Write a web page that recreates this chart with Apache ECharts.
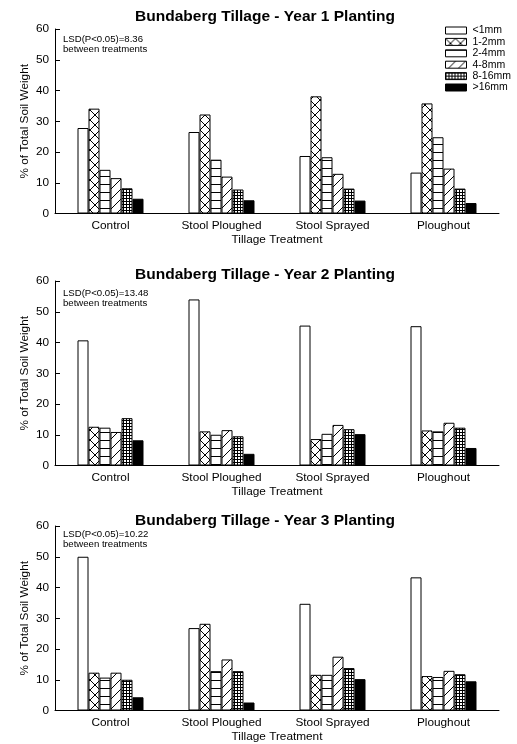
<!DOCTYPE html>
<html><head><meta charset="utf-8">
<script src="https://cdn.jsdelivr.net/npm/echarts@6/dist/echarts.min.js"></script>
<style>html,body{margin:0;padding:0;background:#fff}#c{width:517px;height:744px}</style>
</head><body><div id="c"></div>
<script>
const categories = ['Control', 'Stool Ploughed', 'Stool Sprayed', 'Ploughout'];
const sizeClasses = ['<1mm', '1-2mm', '2-4mm', '4-8mm', '8-16mm', '>16mm'];
const yTicks = [0, 10, 20, 30, 40, 50, 60];
const titles = ['Bundaberg Tillage - Year 1 Planting', 'Bundaberg Tillage - Year 2 Planting', 'Bundaberg Tillage - Year 3 Planting'];
const lsdValues = ['8.36', '13.48', '10.22'];

// Year 1 (values by size class across treatments)
const y1_lt1  = [27.8, 26.5, 18.7, 13.3];
const y1_1_2  = [34.1, 32.2, 38.1, 35.8];
const y1_2_4  = [14.2, 17.5, 18.3, 24.8];
const y1_4_8  = [11.5, 12.0, 12.9, 14.6];
const y1_8_16 = [8.2, 7.8, 8.1, 8.1];
const y1_gt16 = [4.8, 4.3, 4.2, 3.4];
// Year 2
const y2_lt1  = [40.7, 54.0, 45.5, 45.3];
const y2_1_2  = [12.6, 11.1, 8.6, 11.4];
const y2_2_4  = [12.3, 10.0, 10.3, 11.1];
const y2_4_8  = [10.9, 11.5, 13.2, 13.9];
const y2_8_16 = [15.4, 9.5, 11.8, 12.3];
const y2_gt16 = [8.2, 3.8, 10.2, 5.7];
// Year 3
const y3_lt1  = [50.0, 26.8, 34.7, 43.3];
const y3_1_2  = [12.3, 28.2, 11.6, 11.2];
const y3_2_4  = [10.7, 12.8, 11.6, 10.9];
const y3_4_8  = [12.3, 16.6, 17.5, 12.9];
const y3_8_16 = [10.0, 12.8, 13.8, 11.8];
const y3_gt16 = [4.3, 2.6, 10.2, 9.5];

const years = [
  [y1_lt1, y1_1_2, y1_2_4, y1_4_8, y1_8_16, y1_gt16],
  [y2_lt1, y2_1_2, y2_2_4, y2_4_8, y2_8_16, y2_gt16],
  [y3_lt1, y3_1_2, y3_2_4, y3_4_8, y3_8_16, y3_gt16]
];

function tile(w, h, draw) {
  const c = document.createElement('canvas');
  c.width = w; c.height = h;
  const g = c.getContext('2d');
  g.fillStyle = '#fff'; g.fillRect(0, 0, w, h);
  g.strokeStyle = '#000'; g.lineWidth = 1;
  draw(g);
  return { image: c, repeat: 'repeat' };
}
const fills = [
  '#ffffff',
  tile(10, 10, g => { g.beginPath(); g.moveTo(0,0); g.lineTo(10,10); g.moveTo(10,0); g.lineTo(0,10); g.stroke(); }),
  tile(8, 8, g => { g.beginPath(); g.moveTo(0,0.5); g.lineTo(8,0.5); g.stroke(); }),
  tile(10, 10, g => { g.beginPath(); g.moveTo(0,10); g.lineTo(10,0); g.moveTo(-1,1); g.lineTo(1,-1); g.moveTo(9,11); g.lineTo(11,9); g.stroke(); }),
  tile(3, 3, g => { g.beginPath(); g.moveTo(0.5,0); g.lineTo(0.5,3); g.moveTo(0,0.5); g.lineTo(3,0.5); g.stroke(); }),
  '#000000'
];

const font = "'Liberation Sans', Arial, sans-serif";
const gridTops = [29, 281, 526];
const titleTops = [9, 267, 513];
const lsdTops = [34, 288, 529];

const option = {
  animation: false,
  backgroundColor: '#fff',
  title: titles.map((t, i) => ({
    text: t, left: 265, top: titleTops[i], textAlign: 'center', padding: 0,
    textStyle: { fontFamily: font, fontSize: 15.5, fontWeight: 'bold', color: '#000' }
  })),
  legend: {
    data: sizeClasses, orient: 'vertical', left: 445, top: 25, padding: 0,
    itemWidth: 21, itemHeight: 7, itemGap: 0.4, icon: 'rect',
    textStyle: { fontFamily: font, fontSize: 10.5, color: '#000', padding: [0, 0, 0, 1] },
    itemStyle: { borderColor: '#000', borderWidth: 1 }
  },
  grid: gridTops.map(t => ({ left: 55, right: 18, top: t, height: 184.5 })),
  xAxis: gridTops.map((t, i) => ({
    type: 'category', gridIndex: i, data: categories,
    name: 'Tillage Treatment', nameLocation: 'middle', nameGap: 20, nameMoveOverlap: false,
    nameTextStyle: { fontFamily: font, fontSize: 11.8, color: '#000' },
    axisLine: { lineStyle: { color: '#000', width: 1 } },
    axisTick: { show: false },
    axisLabel: { fontFamily: font, fontSize: 11.8, color: '#000', margin: 6 }
  })),
  yAxis: gridTops.map((t, i) => ({
    type: 'value', gridIndex: i, min: yTicks[0], max: yTicks[yTicks.length - 1], interval: yTicks[1] - yTicks[0],
    name: '% of Total Soil Weight', nameLocation: 'middle', nameGap: 24, nameMoveOverlap: false,
    nameTextStyle: { fontFamily: font, fontSize: 11.8, color: '#000' },
    axisLine: { show: true, lineStyle: { color: '#000', width: 1 } },
    axisTick: { show: true, inside: true, length: 5, lineStyle: { color: '#000' } },
    splitLine: { show: false },
    axisLabel: { fontFamily: font, fontSize: 11.8, color: '#000', margin: 6 }
  })),
  graphic: lsdValues.map((v, i) => ({
    type: 'text', left: 63, top: lsdTops[i],
    style: { text: 'LSD(P<0.05)=' + v + '\nbetween treatments', fontFamily: font, fontSize: 9.6, lineHeight: 10, fill: '#000' }
  })),
  series: []
};

years.forEach((ySeries, gi) => {
  ySeries.forEach((vals, si) => {
    option.series.push({
      type: 'bar', name: sizeClasses[si], xAxisIndex: gi, yAxisIndex: gi,
      data: vals, barWidth: 11, barGap: '0%',
      itemStyle: { color: fills[si], borderColor: '#000', borderWidth: 1 }
    });
  });
});

const chart = echarts.init(document.getElementById('c'), null, { renderer: 'canvas' });
chart.setOption(option);
</script>
</body></html>
